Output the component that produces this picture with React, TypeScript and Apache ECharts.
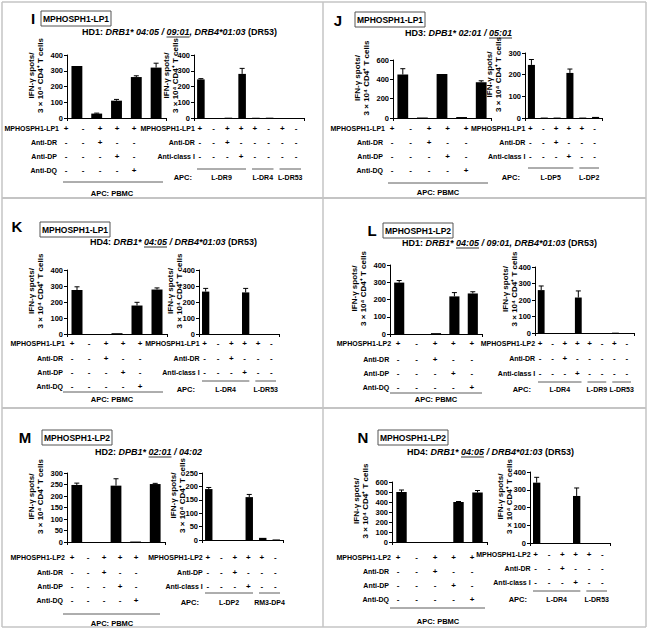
import React, { useEffect, useRef } from "react";
import * as echarts from "echarts";

const FONT = '"Liberation Sans", Arial, Helvetica, sans-serif';
const Y_NAME = "IFN-\u03b3 spots/\n3 \u00d7 10\u2074 CD4\u207a T cells";

// ---------- data ----------
const LEFT_CATS = ["Peptide", "No peptide", "Peptide + anti-DR", "Peptide + anti-DP", "Peptide + anti-DQ"];
const LEFT_SIGNS = ["+-+++", "--+--", "---+-", "----+"];
const LEFT_LABELS_LP1 = ["MPHOSPH1-LP1", "Anti-DR", "Anti-DP", "Anti-DQ"];
const LEFT_LABELS_LP2 = ["MPHOSPH1-LP2", "Anti-DR", "Anti-DP", "Anti-DQ"];
const RIGHT_LABELS_LP1 = ["MPHOSPH1-LP1", "Anti-DR", "Anti-class I"];
const RIGHT_LABELS_LP2 = ["MPHOSPH1-LP2", "Anti-DR", "Anti-class I"];
const M_RIGHT_LABELS = ["MPHOSPH1-LP2", "Anti-DP", "Anti-class I"];
const RIGHT8_SIGNS = ["+-+++-+-", "--+-----", "---+----"];
const RIGHT6_SIGNS = ["+-+++-", "--+---", "---+--"];

const I_R_CATS = ["L-DR9 +pep", "L-DR9 -pep", "L-DR9 anti-DR", "L-DR9 anti-class I", "L-DR4 +pep", "L-DR4 -pep", "L-DR53 +pep", "L-DR53 -pep"];
const J_R_CATS = ["L-DP5 +pep", "L-DP5 -pep", "L-DP5 anti-DR", "L-DP5 anti-class I", "L-DP2 +pep", "L-DP2 -pep"];
const K_R_CATS = ["L-DR4 +pep", "L-DR4 -pep", "L-DR4 anti-DR", "L-DR4 anti-class I", "L-DR53 +pep", "L-DR53 -pep"];
const L_R_CATS = ["L-DR4 +pep", "L-DR4 -pep", "L-DR4 anti-DR", "L-DR4 anti-class I", "L-DR9 +pep", "L-DR9 -pep", "L-DR53 +pep", "L-DR53 -pep"];
const M_R_CATS = ["L-DP2 +pep", "L-DP2 -pep", "L-DP2 anti-DP", "L-DP2 anti-class I", "RM3-DP4 +pep", "RM3-DP4 -pep"];
const N_R_CATS = ["L-DR4 +pep", "L-DR4 -pep", "L-DR4 anti-DR", "L-DR4 anti-class I", "L-DR53 +pep", "L-DR53 -pep"];

const I_R_GROUPS: [string, number][] = [["L-DR9", 4], ["L-DR4", 2], ["L-DR53", 2]];
const J_R_GROUPS: [string, number][] = [["L-DP5", 4], ["L-DP2", 2]];
const K_R_GROUPS: [string, number][] = [["L-DR4", 4], ["L-DR53", 2]];
const L_R_GROUPS: [string, number][] = [["L-DR4", 4], ["L-DR9", 2], ["L-DR53", 2]];
const M_R_GROUPS: [string, number][] = [["L-DP2", 4], ["RM3-DP4", 2]];
const N_R_GROUPS: [string, number][] = [["L-DR4", 4], ["L-DR53", 2]];

const I_L_VALUES = [330, 28, 110, 260, 320];
const I_L_ERRORS = [0, 3, 8, 8, 28];
const I_R_VALUES = [245, 0, 2, 280, 2, 2, 0, 0];
const I_R_ERRORS = [5, 0, 0, 35, 0, 0, 0, 0];
const J_L_VALUES = [450, 5, 455, 10, 370];
const J_L_ERRORS = [60, 0, 0, 0, 15];
const J_R_VALUES = [245, 2, 2, 208, 2, 5];
const J_R_ERRORS = [25, 0, 0, 18, 0, 0];
const K_L_VALUES = [275, 0, 5, 178, 278];
const K_L_ERRORS = [20, 0, 0, 20, 10];
const K_R_VALUES = [265, 0, 0, 260, 0, 0];
const K_R_ERRORS = [20, 0, 0, 25, 0, 0];
const L_L_VALUES = [298, 0, 5, 218, 235];
const L_L_ERRORS = [12, 0, 0, 22, 10];
const L_R_VALUES = [260, 0, 0, 215, 0, 0, 2, 0];
const L_R_ERRORS = [25, 0, 0, 40, 0, 0, 0, 0];
const M_L_VALUES = [248, 0, 245, 2, 252];
const M_L_ERRORS = [8, 0, 30, 0, 3];
const M_R_VALUES = [190, 0, 0, 160, 8, 2];
const M_R_ERRORS = [6, 0, 0, 10, 0, 0];
const N_L_VALUES = [500, 0, 0, 400, 495];
const N_L_ERRORS = [20, 0, 0, 5, 20];
const N_R_VALUES = [340, 0, 0, 265, 0, 0];
const N_R_ERRORS = [30, 0, 0, 45, 0, 0];

const I_HLA: [string, string][] = [["HD1: ", "b"], ["DRB1* 04:05 / ", "bi"], ["09:01", "biu"], [", DRB4*01:03 ", "bi"], ["(DR53)", "b"]];
const J_HLA: [string, string][] = [["HD3: ", "b"], ["DPB1* 02:01 / ", "bi"], ["05:01", "biu"]];
const K_HLA: [string, string][] = [["HD4: ", "b"], ["DRB1* ", "bi"], ["04:05", "biu"], [" / DRB4*01:03 ", "bi"], ["(DR53)", "b"]];
const L_HLA: [string, string][] = [["HD1: ", "b"], ["DRB1* ", "bi"], ["04:05", "biu"], [" / 09:01, DRB4*01:03 ", "bi"], ["(DR53)", "b"]];
const M_HLA: [string, string][] = [["HD2: ", "b"], ["DPB1* ", "bi"], ["02:01", "biu"], [" / 04:02", "bi"]];
const N_HLA: [string, string][] = [["HD4: ", "b"], ["DRB1* ", "bi"], ["04:05", "biu"], [" / DRB4*01:03 ", "bi"], ["(DR53)", "b"]];

// ---------- layout ----------
type Sub = {
  cats: string[]; values: number[]; errors: number[]; max: number; interval: number;
  grid: [number, number, number, number];
  labels: string[]; signs: string[]; rowY: number[];
  signX0?: number; signDX?: number; nameDX: number;
  groups?: [string, number][]; groupLineY?: number; groupLabelY?: number; apcRight?: number;
  apcLine?: [number, number, number]; apcText?: [number, number];
};
type Panel = { letter: string; lx: number; ly: number; title: string; bx: number; by: number; hla: [string, string][]; hx: number; hy: number; subs: Sub[] };

const PANELS: Panel[] = [
  {
    letter: "I", lx: 33, ly: 18, title: "MPHOSPH1-LP1", bx: 41, by: 11, hla: I_HLA, hx: 82, hy: 32,
    subs: [
      { cats: LEFT_CATS, values: I_L_VALUES, errors: I_L_ERRORS, max: 400, interval: 100, grid: [67, 55, 99, 63], labels: LEFT_LABELS_LP1, signs: LEFT_SIGNS, rowY: [128, 142, 156, 170], signX0: 66, signDX: 17, nameDX: 31, apcLine: [63, 163, 182], apcText: [112, 193] },
      { cats: I_R_CATS, values: I_R_VALUES, errors: I_R_ERRORS, max: 400, interval: 100, grid: [194, 55, 110, 63], labels: RIGHT_LABELS_LP1, signs: RIGHT8_SIGNS, rowY: [128, 142, 156], nameDX: 23, groups: I_R_GROUPS, groupLineY: 169, groupLabelY: 177, apcRight: 192 },
    ],
  },
  {
    letter: "J", lx: 338, ly: 20, title: "MPHOSPH1-LP1", bx: 355, by: 12, hla: J_HLA, hx: 405, hy: 33,
    subs: [
      { cats: LEFT_CATS, values: J_L_VALUES, errors: J_L_ERRORS, max: 600, interval: 200, grid: [393, 60, 98, 58], labels: LEFT_LABELS_LP1, signs: LEFT_SIGNS, rowY: [128, 142, 156, 170], signX0: 392, signDX: 18.5, nameDX: 31, apcLine: [388, 488, 183], apcText: [438, 192] },
      { cats: J_R_CATS, values: J_R_VALUES, errors: J_R_ERRORS, max: 300, interval: 100, grid: [525, 53, 77, 65], labels: RIGHT_LABELS_LP1, signs: RIGHT6_SIGNS, rowY: [128, 142, 156], nameDX: 31, groups: J_R_GROUPS, groupLineY: 168, groupLabelY: 177, apcRight: 520 },
    ],
  },
  {
    letter: "K", lx: 17, ly: 226, title: "MPHOSPH1-LP1", bx: 40, by: 222, hla: K_HLA, hx: 90, hy: 242,
    subs: [
      { cats: LEFT_CATS, values: K_L_VALUES, errors: K_L_ERRORS, max: 400, interval: 100, grid: [67, 270, 100, 64], labels: LEFT_LABELS_LP1, signs: LEFT_SIGNS, rowY: [343, 358, 372, 386], signX0: 72, signDX: 17, nameDX: 31, apcLine: [63, 163, 392], apcText: [112, 399] },
      { cats: K_R_CATS, values: K_R_VALUES, errors: K_R_ERRORS, max: 400, interval: 100, grid: [199, 270, 80, 64], labels: RIGHT_LABELS_LP1, signs: RIGHT6_SIGNS, rowY: [343, 358, 372], nameDX: 24, groups: K_R_GROUPS, groupLineY: 381, groupLabelY: 389, apcRight: 195 },
    ],
  },
  {
    letter: "L", lx: 372, ly: 230, title: "MPHOSPH1-LP2", bx: 383, by: 223, hla: L_HLA, hx: 402, hy: 243,
    subs: [
      { cats: LEFT_CATS, values: L_L_VALUES, errors: L_L_ERRORS, max: 400, interval: 100, grid: [390, 265, 92, 69], labels: LEFT_LABELS_LP2, signs: LEFT_SIGNS, rowY: [343, 359, 373, 387], nameDX: 31, apcLine: [390, 482, 393], apcText: [436, 399] },
      { cats: L_R_CATS, values: L_R_VALUES, errors: L_R_ERRORS, max: 400, interval: 100, grid: [535, 267, 99, 66], labels: RIGHT_LABELS_LP2, signs: RIGHT8_SIGNS, rowY: [343, 358, 373], nameDX: 25, groups: L_R_GROUPS, groupLineY: 382, groupLabelY: 389, apcRight: 531 },
    ],
  },
  {
    letter: "M", lx: 25, ly: 437, title: "MPHOSPH1-LP2", bx: 42, by: 430, hla: M_HLA, hx: 95, hy: 452,
    subs: [
      { cats: LEFT_CATS, values: M_L_VALUES, errors: M_L_ERRORS, max: 300, interval: 50, grid: [67, 473, 98, 69], labels: LEFT_LABELS_LP2, signs: LEFT_SIGNS, rowY: [557, 572, 586, 600], signX0: 72, signDX: 16, nameDX: 31, apcLine: [63, 160, 614], apcText: [112, 623] },
      { cats: M_R_CATS, values: M_R_VALUES, errors: M_R_ERRORS, max: 250, interval: 50, grid: [202, 473, 81, 67], labels: M_RIGHT_LABELS, signs: RIGHT6_SIGNS, rowY: [557, 572, 586], nameDX: 24, groups: M_R_GROUPS, groupLineY: 593, groupLabelY: 602, apcRight: 199 },
    ],
  },
  {
    letter: "N", lx: 363, ly: 437, title: "MPHOSPH1-LP2", bx: 378, by: 430, hla: N_HLA, hx: 407, hy: 452,
    subs: [
      { cats: LEFT_CATS, values: N_L_VALUES, errors: N_L_ERRORS, max: 600, interval: 100, grid: [392, 482, 95, 60], labels: LEFT_LABELS_LP2, signs: LEFT_SIGNS, rowY: [557, 571, 585, 599], signX0: 398, signDX: 18.5, nameDX: 31, apcLine: [390, 485, 608], apcText: [438, 621] },
      { cats: N_R_CATS, values: N_R_VALUES, errors: N_R_ERRORS, max: 400, interval: 100, grid: [530, 472, 80, 71], labels: RIGHT_LABELS_LP2, signs: RIGHT6_SIGNS, rowY: [554, 568, 582], nameDX: 25, groups: N_R_GROUPS, groupLineY: 591, groupLabelY: 599, apcRight: 527 },
    ],
  },
];

const BOX_W = 70;
const BOX_H = 15;

function buildOption() {
  const canvas = document.createElement("canvas");
  const ctx = canvas.getContext("2d") as CanvasRenderingContext2D;
  const measure = (t: string, font: string) => {
    ctx.font = font;
    return ctx.measureText(t).width;
  };
  const els: any[] = [];
  const addText = (t: string, x: number, y: number, font: string, align = "left", valign = "middle", extra: any = {}, styleExtra: any = {}) => {
    els.push({
      type: "text", x, y, silent: true, ...extra,
      style: { text: t, font, fill: "#000", align, verticalAlign: valign, textAlign: align, textVerticalAlign: valign, ...styleExtra },
    });
  };
  const addLine = (x1: number, y1: number, x2: number, y2: number, stroke = "#000", w = 1) => {
    els.push({ type: "line", silent: true, shape: { x1, y1, x2, y2 }, style: { stroke, lineWidth: w } });
  };

  // frame
  const FR = "#c4c4c4";
  addLine(2, 2, 646, 2, FR, 1.5);
  addLine(2, 627, 646, 627, FR, 1.5);
  addLine(2, 2, 2, 627, FR, 1.5);
  addLine(646, 2, 646, 627, FR, 1.5);
  addLine(2, 198, 646, 198, FR, 2);
  addLine(2, 408, 646, 408, FR, 2);
  addLine(323, 2, 323, 627, FR, 1.5);

  const grids: any[] = [];
  const xAxes: any[] = [];
  const yAxes: any[] = [];
  const series: any[] = [];

  const fB = (s: number) => `bold ${s}px ${FONT}`;
  const fBI = (s: number) => `italic bold ${s}px ${FONT}`;

  let k = 0;
  PANELS.forEach((p) => {
    addText(p.letter, p.lx, p.ly, fB(15), "center", "middle");
    els.push({ type: "rect", silent: true, shape: { x: p.bx, y: p.by, width: BOX_W, height: BOX_H }, style: { fill: "#fff", stroke: "#555", lineWidth: 1 } });
    addText(p.title, p.bx + BOX_W / 2, p.by + BOX_H / 2 + 0.5, fB(8.5), "center", "middle");
    // HLA line
    let hx = p.hx;
    p.hla.forEach(([t, st]) => {
      const font = st === "b" ? fB(9) : fBI(9);
      const w = measure(t, font);
      addText(t, hx, p.hy, font, "left", "middle");
      if (st === "biu") addLine(hx, p.hy + 5, hx + w, p.hy + 5, "#000", 0.8);
      hx += w;
    });

    p.subs.forEach((s) => {
      const [gl, gt, gw, gh] = s.grid;
      const n = s.values.length;
      const band = gw / n;
      grids.push({ left: gl, top: gt, width: gw, height: gh, containLabel: false });
      xAxes.push({
        type: "category", gridIndex: k, data: s.cats, boundaryGap: true,
        axisLine: { show: true, lineStyle: { color: "#000", width: 1 } },
        axisTick: { show: true, length: 3, lineStyle: { color: "#000", width: 1 } },
        axisLabel: { show: false }, splitLine: { show: false },
      });
      yAxes.push({
        type: "value", gridIndex: k, min: 0, max: s.max, interval: s.interval,
        axisLine: { show: true, lineStyle: { color: "#000", width: 1 } },
        axisTick: { show: true, length: 3, lineStyle: { color: "#000", width: 1 } },
        splitLine: { show: false },
        axisLabel: { fontSize: 7.5, fontWeight: "bold", color: "#000", margin: 4, fontFamily: FONT },
      });
      series.push({
        type: "bar", xAxisIndex: k, yAxisIndex: k, data: s.values, barWidth: "55%",
        itemStyle: { color: "#000" }, silent: true,
      });
      series.push({
        type: "custom", xAxisIndex: k, yAxisIndex: k, silent: true, z: 5,
        data: s.values.map((v, i) => [i, v, s.errors[i]]),
        encode: { x: 0, y: 1 },
        renderItem: (_params: any, api: any) => {
          const e = api.value(2);
          if (!e) return null;
          const idx = api.value(0);
          const v = api.value(1);
          const p0 = api.coord([idx, v]);
          const p1 = api.coord([idx, v + e]);
          return {
            type: "group",
            children: [
              { type: "line", shape: { x1: p0[0], y1: p0[1], x2: p1[0], y2: p1[1] }, style: { stroke: "#000", lineWidth: 1 } },
              { type: "line", shape: { x1: p1[0] - 2.5, y1: p1[1], x2: p1[0] + 2.5, y2: p1[1] }, style: { stroke: "#000", lineWidth: 1 } },
            ],
          };
        },
      });

      // y axis title (rotated, two lines)
      addText(Y_NAME, gl - s.nameDX, gt + gh / 2 - 11, fB(8), "center", "middle", { rotation: Math.PI / 2 }, { lineHeight: 9.5 });

      // sign table
      const sx = (i: number) => (s.signX0 !== undefined ? s.signX0 + i * (s.signDX as number) : gl + (i + 0.5) * band - 1);
      s.labels.forEach((lab, r) => {
        const y = s.rowY[r];
        const gap = s.groups ? 5 : r === 0 ? 7 : 9;
        addText(lab, sx(0) - gap, y, fB(7), "right", "middle");
        const row = s.signs[r];
        for (let i = 0; i < row.length; i++) {
          addText(row[i], sx(i), y, fB(8), "center", "middle");
        }
      });
      if (s.apcLine && s.apcText) {
        addLine(s.apcLine[0], s.apcLine[2], s.apcLine[1], s.apcLine[2], "#333", 0.8);
        addText("APC: PBMC", s.apcText[0], s.apcText[1], fB(7.5), "center", "middle");
      }
      if (s.groups) {
        let start = 0;
        addText("APC:", s.apcRight as number, s.groupLabelY as number, fB(7.5), "right", "middle");
        s.groups.forEach(([name, cnt]) => {
          const x1 = gl + start * band + 3;
          const x2 = gl + (start + cnt) * band - 3;
          addLine(x1, s.groupLineY as number, x2, s.groupLineY as number, "#333", 0.8);
          addText(name, (x1 + x2) / 2, s.groupLabelY as number, fB(7), "center", "middle");
          start += cnt;
        });
      }
      k++;
    });
  });

  return {
    animation: false,
    backgroundColor: "#fff",
    textStyle: { fontFamily: FONT },
    grid: grids,
    xAxis: xAxes,
    yAxis: yAxes,
    series,
    graphic: { elements: els },
  };
}

export default function App() {
  const ref = useRef<HTMLDivElement>(null);
  useEffect(() => {
    if (!ref.current) return;
    const chart = echarts.init(ref.current, null, { renderer: "svg", width: 649, height: 630 });
    chart.setOption(buildOption() as any);
    return () => chart.dispose();
  }, []);
  return <div ref={ref} style={{ position: "absolute", left: 0, top: 0, width: 649, height: 630, background: "#fff" }} />;
}
